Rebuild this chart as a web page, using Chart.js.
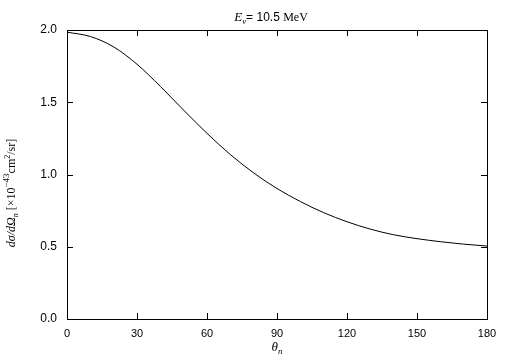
<!DOCTYPE html>
<html>
<head>
<meta charset="utf-8">
<script src="https://cdn.jsdelivr.net/npm/chart.js@4"></script>
<style>
  html, body { margin: 0; padding: 0; background: #fff; }
  #wrap { width: 505px; height: 361px; }
</style>
</head>
<body>
<div id="wrap"><canvas id="xsChart" width="505" height="361"></canvas></div>
<script>
// angle of the neutron (deg) and differential cross section
const angles = [0, 10, 20, 30, 40, 50, 60, 70, 80, 90, 100, 110, 120, 130, 140, 150, 160, 170, 180];
const xsec = [1.985, 1.955, 1.883, 1.763, 1.610, 1.445, 1.285, 1.138, 1.011, 0.903, 0.813, 0.736, 0.673, 0.622, 0.583, 0.556, 0.535, 0.518, 0.505];
const xTicks = [0, 30, 60, 90, 120, 150, 180];
const yTicks = [0, 0.5, 1.0, 1.5, 2.0];

const SERIF = '"Liberation Serif", "Times New Roman", serif';
const SANS = '"Liberation Sans", Arial, sans-serif';

// draw a line of text made of pieces in different fonts, centred on x
function drawRich(ctx, segs, x, y) {
    var total = 0;
    segs.forEach(function(s) {
        ctx.font = s.font;
        s.w = ctx.measureText(s.t).width;
        total += s.w;
    });
    var cx = x - total / 2;
    segs.forEach(function(s) {
        ctx.font = s.font;
        ctx.fillText(s.t, cx, y + (s.dy || 0));
        cx += s.w;
    });
}

const framePlugin = {
    id: 'framePlugin',
    afterDraw: function(chart) {
        const ctx = chart.ctx;
        const a = chart.chartArea;
        const xs = chart.scales['x'];
        const ys = chart.scales['y'];
        const len = 6;
        ctx.save();
        ctx.strokeStyle = '#000';
        ctx.lineWidth = 1;
        ctx.strokeRect(Math.round(a.left) + 0.5, Math.round(a.top) + 0.5,
            Math.round(a.right - a.left), Math.round(a.bottom - a.top));
        // inward ticks on all four sides
        ctx.beginPath();
        xTicks.forEach(function(v) {
            var px = Math.round(xs.getPixelForValue(v)) + 0.5;
            ctx.moveTo(px, a.bottom); ctx.lineTo(px, a.bottom - len);
            ctx.moveTo(px, a.top); ctx.lineTo(px, a.top + len);
        });
        yTicks.forEach(function(v) {
            var py = Math.round(ys.getPixelForValue(v)) + 0.5;
            ctx.moveTo(a.left, py); ctx.lineTo(a.left + len, py);
            ctx.moveTo(a.right, py); ctx.lineTo(a.right - len, py);
        });
        ctx.stroke();

        ctx.fillStyle = '#000';
        ctx.textBaseline = 'alphabetic';
        // title
        drawRich(ctx, [
            {t: 'E', font: 'italic 13px ' + SERIF},
            {t: 'ν', font: 'italic 9px ' + SERIF, dy: 3},
            {t: '= 10.5 ', font: '12px ' + SANS},
            {t: 'MeV', font: '12px ' + SERIF}
        ], (a.left + a.right) / 2 - 6, 21);
        // x axis title
        drawRich(ctx, [
            {t: 'θ', font: 'italic 13px ' + SERIF},
            {t: 'n', font: 'italic 9px ' + SERIF, dy: 3}
        ], (a.left + a.right) / 2, 351);
        // y axis title, rotated
        ctx.translate(15, 193);
        ctx.rotate(-Math.PI / 2);
        drawRich(ctx, [
            {t: 'dσ/d', font: 'italic 12px ' + SERIF},
            {t: 'Ω', font: 'italic 12px ' + SERIF},
            {t: 'n', font: 'italic 8px ' + SERIF, dy: 3},
            {t: ' [×10', font: '12px ' + SERIF},
            {t: '−43', font: '9px ' + SERIF, dy: -6},
            {t: 'cm', font: '12px ' + SERIF},
            {t: '2', font: '8px ' + SERIF, dy: -5},
            {t: '/sr]', font: '12px ' + SERIF}
        ], 0, 0);
        ctx.restore();
    }
};

const points = angles.map(function(a, i) { return {x: a, y: xsec[i]}; });

new Chart(document.getElementById('xsChart'), {
    type: 'line',
    data: {
        datasets: [{
            data: points,
            borderColor: '#000',
            borderWidth: 1,
            pointRadius: 0,
            fill: false,
            cubicInterpolationMode: 'monotone'
        }]
    },
    options: {
        responsive: false,
        animation: false,
        layout: { padding: { top: 30, right: 18, left: 0, bottom: 0 } },
        plugins: { legend: { display: false }, tooltip: { enabled: false } },
        scales: {
            x: {
                type: 'linear',
                min: 0, max: 180,
                afterFit: function(s) { s.height = 42; },
                afterBuildTicks: function(s) { s.ticks = xTicks.map(function(v) { return {value: v}; }); },
                grid: { display: false, drawTicks: false },
                border: { display: false },
                ticks: {
                    color: '#000',
                    padding: 8,
                    maxRotation: 0,
                    font: { family: SANS, size: 11 },
                    callback: function(v) { return String(v); }
                }
            },
            y: {
                min: 0, max: 2.0,
                afterFit: function(s) { s.width = 67; },
                afterBuildTicks: function(s) { s.ticks = yTicks.map(function(v) { return {value: v}; }); },
                grid: { display: false, drawTicks: false },
                border: { display: false },
                ticks: {
                    color: '#000',
                    padding: 10,
                    font: { family: SANS, size: 12 },
                    callback: function(v) { return v.toFixed(1); }
                }
            }
        }
    },
    plugins: [framePlugin]
});
</script>
</body>
</html>
